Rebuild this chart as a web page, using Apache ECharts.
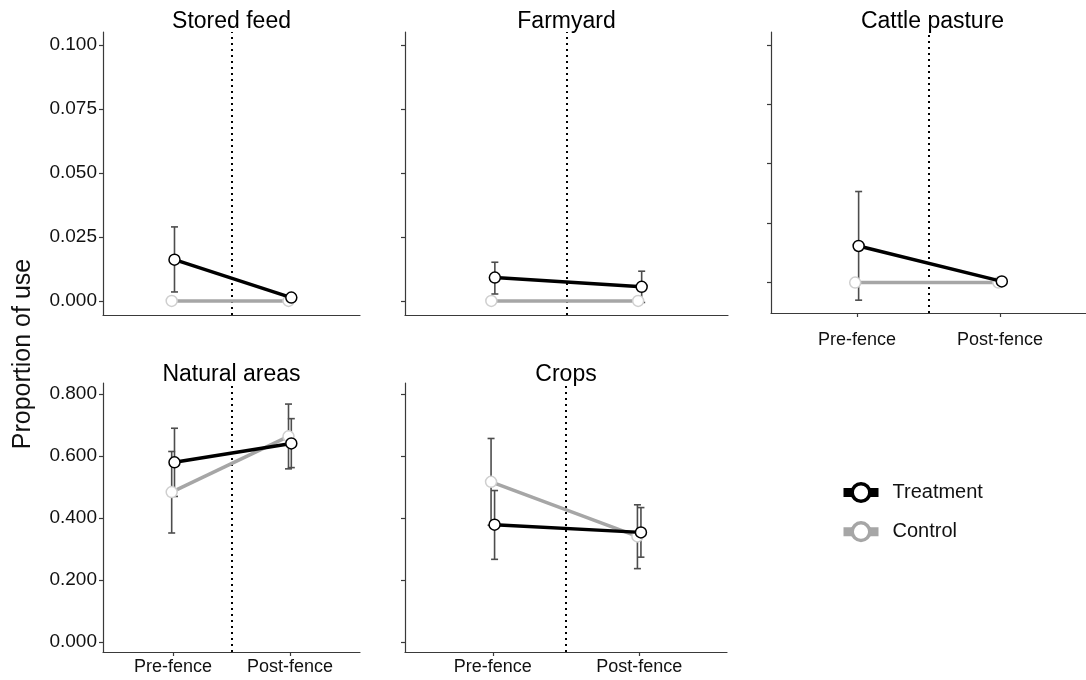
<!DOCTYPE html>
<html>
<head>
<meta charset="utf-8">
<script src="https://cdn.jsdelivr.net/npm/echarts@6/dist/echarts.min.js"></script>
<style>html,body{margin:0;padding:0;background:#fff}#c{width:1086px;height:680px}</style>
</head>
<body>
<div id="c"></div>
<script>
// ---- data ----
const categories = ['Pre-fence', 'Post-fence'];
const panelTitles = ['Stored feed', 'Farmyard', 'Cattle pasture', 'Natural areas', 'Crops'];
const topTicks = [0, 0.025, 0.05, 0.075, 0.1];
const bottomTicks = [0, 0.2, 0.4, 0.6, 0.8];
// per panel: [Pre-fence, Post-fence]
const treatmentMean = [[0.0161, 0.0013], [0.0091, 0.0055], [0.0154, 0.0005], [0.579, 0.640], [0.378, 0.353]];
const treatmentLow  = [[0.0035, null], [0.0027, -0.0006], [-0.0074, null], [0.469, 0.562], [0.266, 0.273]];
const treatmentHigh = [[0.0289, null], [0.0151, 0.0116], [0.0383, null], [0.689, 0.720], [0.488, 0.433]];
const controlMean = [[0, 0], [0, 0], [0, 0], [0.483, 0.663], [0.516, 0.340]];
const controlLow  = [[null, null], [null, null], [null, null], [0.351, 0.558], [0.376, 0.236]];
const controlHigh = [[null, null], [null, null], [null, null], [0.614, 0.767], [0.656, 0.442]];

// ---- layout / style ----
const grids = [
  {left: 103, top: 32, width: 257, height: 283},
  {left: 405, top: 32, width: 323, height: 283},
  {left: 771, top: 32, width: 323, height: 281},
  {left: 103, top: 383, width: 257, height: 269},
  {left: 405, top: 383, width: 322, height: 269}
];
const yRanges = [[-0.0055, 0.105], [-0.0055, 0.105], [-0.0128, 0.1054], [-0.033, 0.835], [-0.033, 0.835]];
const showYLabels = [true, false, false, true, false];
const showXLabels = [false, false, true, true, true];
const xLabelMargin = [8, 8, 18, 6, 6];
const titleTops = [10, 10, 10, 363, 363];
const dodge = 0.012;
const TREAT = '#000000', CTRL = '#a6a6a6', CTRL_PT = '#cfcfcf', ERR = '#4d4d4d';
const AXIS = '#3a3a3a', TXT = '#111111';
const FONT = 'Liberation Sans, Arial, sans-serif';

const option = {
  animation: false,
  backgroundColor: '#fff',
  grid: grids.map(g => Object.assign({containLabel: false}, g)),
  title: panelTitles.map((t, i) => ({
    text: t, left: grids[i].left + grids[i].width / 2, top: titleTops[i], textAlign: 'center', padding: 0,
    textStyle: {fontFamily: FONT, fontSize: 23, fontWeight: 'normal', color: '#000'}
  })),
  xAxis: grids.map((g, i) => ({
    gridIndex: i, type: 'value', min: 0.4, max: 2.6,
    splitLine: {show: false},
    axisLine: {show: true, onZero: false, lineStyle: {color: AXIS, width: 1.2}},
    axisTick: {show: showXLabels[i], customValues: [1, 2], length: 4, lineStyle: {color: AXIS, width: 1.2}},
    axisLabel: {show: showXLabels[i], customValues: [1, 2], margin: xLabelMargin[i],
      formatter: v => categories[Math.round(v) - 1] || '',
      fontFamily: FONT, fontSize: 18, color: TXT}
  })),
  yAxis: grids.map((g, i) => {
    const ticks = i < 3 ? topTicks : bottomTicks;
    return {
      gridIndex: i, type: 'value', min: yRanges[i][0], max: yRanges[i][1],
      splitLine: {show: false},
      axisLine: {show: true, onZero: false, lineStyle: {color: AXIS, width: 1.2}},
      axisTick: {show: true, customValues: ticks, length: 4, lineStyle: {color: AXIS, width: 1.2}},
      axisLabel: {show: showYLabels[i], customValues: ticks, margin: 6,
        formatter: v => Number(v).toFixed(3), fontFamily: FONT, fontSize: 19, color: TXT}
    };
  }),
  legend: {
    orient: 'vertical', left: 834, top: 477, itemWidth: 35, itemHeight: 22, itemGap: 18,
    data: [
      {name: 'Treatment', itemStyle: {color: '#fff', borderColor: TREAT, borderWidth: 3.5}, lineStyle: {color: TREAT, width: 9}},
      {name: 'Control', itemStyle: {color: '#fff', borderColor: CTRL, borderWidth: 3.5}, lineStyle: {color: CTRL, width: 9}}
    ],
    textStyle: {fontFamily: FONT, fontSize: 20, color: TXT, padding: [0, 0, 0, 9]}
  },
  graphic: [{
    type: 'text', x: 23, y: 354, rotation: Math.PI / 2,
    style: {text: 'Proportion of use', fontFamily: FONT, fontSize: 25, fill: TXT, align: 'center', verticalAlign: 'middle'}
  }],
  series: []
};

function errRender(params, api) {
  const x = api.value(0), lo = api.value(1), hi = api.value(2);
  const p1 = api.coord([x, hi]), p2 = api.coord([x, lo]);
  const cap = 3.5;
  const st = {stroke: ERR, lineWidth: 1.6};
  return {type: 'group', children: [
    {type: 'line', shape: {x1: p1[0], y1: p1[1], x2: p2[0], y2: p2[1]}, style: st},
    {type: 'line', shape: {x1: p1[0] - cap, y1: p1[1], x2: p1[0] + cap, y2: p1[1]}, style: st},
    {type: 'line', shape: {x1: p2[0] - cap, y1: p2[1], x2: p2[0] + cap, y2: p2[1]}, style: st}
  ]};
}

panelTitles.forEach((t, i) => {
  const errData = [];
  [0, 1].forEach(k => {
    if (controlLow[i][k] !== null) errData.push([k + 1 - dodge, controlLow[i][k], controlHigh[i][k]]);
    if (treatmentLow[i][k] !== null) errData.push([k + 1 + dodge, treatmentLow[i][k], treatmentHigh[i][k]]);
  });
  option.series.push({
    type: 'custom', name: 'err' + i, xAxisIndex: i, yAxisIndex: i, renderItem: errRender,
    data: errData, z: 1, silent: true
  });
  option.series.push({
    type: 'line', name: 'Control', xAxisIndex: i, yAxisIndex: i, z: 2,
    data: controlMean[i].map((v, k) => [k + 1 - dodge, v]),
    symbol: 'circle', symbolSize: 11, showSymbol: true,
    lineStyle: {color: CTRL, width: 3.5},
    itemStyle: {color: '#fff', borderColor: CTRL_PT, borderWidth: 1.5},
    silent: true
  });
  option.series.push({
    type: 'line', name: 'Treatment', xAxisIndex: i, yAxisIndex: i, z: 3,
    data: treatmentMean[i].map((v, k) => [k + 1 + dodge, v]),
    symbol: 'circle', symbolSize: 11, showSymbol: true,
    lineStyle: {color: TREAT, width: 3.5},
    itemStyle: {color: '#fff', borderColor: '#000', borderWidth: 1.5},
    silent: true,
    markLine: {
      silent: true, symbol: 'none', label: {show: false}, z: 1,
      lineStyle: {color: '#000', width: 2, type: [2, 4]},
      data: [{xAxis: 1.5}]
    }
  });
});

const chart = echarts.init(document.getElementById('c'), null, {renderer: 'canvas'});
chart.setOption(option);
</script>
</body>
</html>
